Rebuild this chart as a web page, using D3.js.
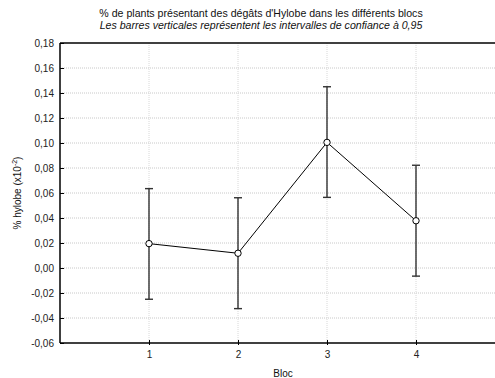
<!DOCTYPE html>
<html><head><meta charset="utf-8">
<script src="https://cdn.jsdelivr.net/npm/d3@7"></script>
<style>
body{margin:0;background:#fff;}
svg{display:block;font-family:"Liberation Sans",Arial,sans-serif;}
</style></head>
<body>
<svg id="c" width="495" height="378"></svg>
<script>
const categories = ["1","2","3","4"];
const means = [0.0195, 0.0118, 0.1005, 0.0378];
const upper = [0.0635, 0.0562, 0.1450, 0.0822];
const lower = [-0.0250, -0.0325, 0.0565, -0.0065];
const yTicks = [-0.06,-0.04,-0.02,0,0.02,0.04,0.06,0.08,0.10,0.12,0.14,0.16,0.18];

const svg = d3.select("#c");
const L=60, R=505, T=43, B=343;
const x = d3.scaleLinear().domain([0,5]).range([L,R]);
const y = d3.scaleLinear().domain([-0.06,0.18]).range([B,T]);
const fmt = v => d3.format(".2f")(v).replace(".",",").replace("−","-");

// grid
svg.append("g").selectAll("line").data(yTicks.slice(1,-1)).join("line")
  .attr("x1",L).attr("x2",R).attr("y1",d=>y(d)).attr("y2",d=>y(d))
  .attr("stroke","#c8c8c8").attr("stroke-width",1).attr("stroke-dasharray","1,1");
svg.append("g").selectAll("line").data(categories).join("line")
  .attr("x1",d=>x(+d)).attr("x2",d=>x(+d)).attr("y1",T).attr("y2",B)
  .attr("stroke","#d8d8d8").attr("stroke-width",1).attr("stroke-dasharray","1,1");

// axes
const yAxis = d3.axisLeft(y).tickValues(yTicks).tickFormat(fmt).tickSize(3).tickPadding(3);
const gy = svg.append("g").attr("transform",`translate(${L},0)`).call(yAxis);
gy.select(".domain").remove();
gy.selectAll("text").attr("font-size",10).attr("fill","#222").attr("font-family","Liberation Sans, Arial, sans-serif");
gy.selectAll(".tick line").attr("x1",0).attr("x2",4).attr("stroke","#000");

const xAxis = d3.axisBottom(x).tickValues(categories.map(Number)).tickFormat(d=>categories[d-1]).tickSize(3).tickPadding(5);
const gx = svg.append("g").attr("transform",`translate(0,${B})`).call(xAxis);
gx.select(".domain").remove();
gx.selectAll("text").attr("font-size",10).attr("fill","#222").attr("font-family","Liberation Sans, Arial, sans-serif");
gx.selectAll(".tick line").attr("y1",-3).attr("y2",2).attr("stroke","#000");

svg.append("line").attr("x1",L).attr("x2",R).attr("y1",T).attr("y2",T).attr("stroke","#000").attr("stroke-width",1.5);
svg.append("line").attr("x1",L).attr("x2",R).attr("y1",B).attr("y2",B).attr("stroke","#000").attr("stroke-width",1.5);
svg.append("line").attr("x1",L).attr("x2",L).attr("y1",T).attr("y2",B).attr("stroke","#000").attr("stroke-width",1.5);

// error bars
const eb = svg.append("g").attr("stroke","#333").attr("stroke-width",1.4);
categories.forEach((c,i)=>{
  const cx = x(+c);
  eb.append("line").attr("x1",cx).attr("x2",cx).attr("y1",y(upper[i])).attr("y2",y(lower[i]));
  eb.append("line").attr("x1",cx-4).attr("x2",cx+4).attr("y1",y(upper[i])).attr("y2",y(upper[i]));
  eb.append("line").attr("x1",cx-4).attr("x2",cx+4).attr("y1",y(lower[i])).attr("y2",y(lower[i]));
});

// line
const line = d3.line().x((d,i)=>x(+categories[i])).y(d=>y(d));
svg.append("path").datum(means).attr("d",line).attr("fill","none").attr("stroke","#000").attr("stroke-width",1);
svg.append("g").selectAll("circle").data(means).join("circle")
  .attr("cx",(d,i)=>x(+categories[i])).attr("cy",d=>y(d)).attr("r",3.2)
  .attr("fill","#fff").attr("stroke","#000").attr("stroke-width",1);

// titles
svg.append("text").attr("x",261).attr("y",17).attr("text-anchor","middle").attr("font-size",10.6).attr("fill","#111")
  .text("% de plants présentant des dégâts d'Hylobe dans les différents blocs");
svg.append("text").attr("x",261).attr("y",29).attr("text-anchor","middle").attr("font-size",10.6).attr("font-style","italic").attr("fill","#111")
  .text("Les barres verticales représentent les intervalles de confiance à 0,95");
svg.append("text").attr("x",283).attr("y",377).attr("text-anchor","middle").attr("font-size",10).attr("fill","#111").text("Bloc");
const yl = svg.append("text").attr("transform",`translate(21,${(T+B)/2}) rotate(-90)`).attr("text-anchor","middle").attr("font-size",10).attr("fill","#111");
yl.append("tspan").text("% hylobe (x10");
yl.append("tspan").attr("font-size",7).attr("dy",-4).text("-2");
yl.append("tspan").attr("dy",4).text(")");
</script>
</body></html>
